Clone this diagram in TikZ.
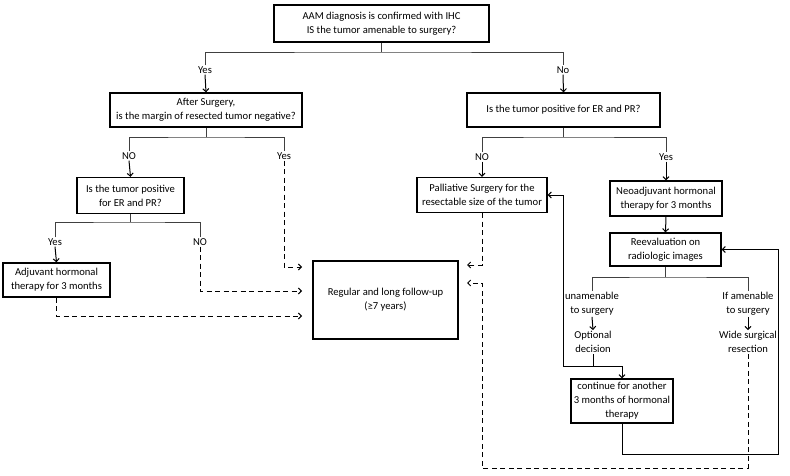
\documentclass[tikz,border=0pt]{standalone}
\usepackage{fontspec}
\setmainfont{Carlito}
\usetikzlibrary{arrows.meta}
\begin{document}
\begin{tikzpicture}[x=1pt,y=-1pt,
  every node/.style={font=\fontsize{10.6}{14}\selectfont},
  box/.style={draw, line width=1.3pt, align=center, inner sep=0pt},
  lbl/.style={align=center, inner sep=1pt},
  br/.style={line width=0.7pt, draw=black!75},
  ln/.style={line width=1pt},
  arr/.style={line width=1pt, -{Straight Barb[length=3pt,width=6pt]}},
  darr/.style={line width=1pt, dash pattern=on 5pt off 3.5pt, -{Straight Barb[length=3pt,width=6pt]}}]
\useasboundingbox[fill=white] (0,0) rectangle (790,476);

% boxes
\node[box, minimum width=215pt, minimum height=37pt] (top) at (381.5,23.5) {AAM diagnosis is confirmed with IHC\\IS the tumor amenable to surgery?};
\node[box, minimum width=192pt, minimum height=34pt] (after) at (206,110) {After Surgery,\\is the margin of resected tumor negative?};
\node[box, minimum width=193pt, minimum height=34pt] (erR) at (563.5,110) {Is the tumor positive for ER and PR?};
\node[box, minimum width=107pt, minimum height=36pt] (erL) at (130.5,195.5) {Is the tumor positive\\for ER and PR?};
\node[box, minimum width=107pt, minimum height=34pt] (adj) at (56.5,280) {Adjuvant hormonal\\therapy for 3 months};
\node[box, minimum width=145pt, minimum height=78pt] (fu) at (385.5,300) {Regular and long follow-up\\(≥7 years)};
\node[box, minimum width=130pt, minimum height=35pt] (pall) at (482,195) {Palliative Surgery for the\\resectable size of the tumor};
\node[box, minimum width=112pt, minimum height=35pt] (neo) at (666,198.5) {Neoadjuvant hormonal\\therapy for 3 months};
\node[box, minimum width=111pt, minimum height=33pt] (reev) at (665.5,249.5) {Reevaluation on\\radiologic images};
\node[box, minimum width=102pt, minimum height=44pt] (cont) at (622,401) {continue for another\\3 months of hormonal\\therapy};

% labels
\node[lbl] (yes1) at (205,70) {Yes};
\node[lbl] (no1) at (563,70) {No};
\node[lbl] (no2) at (129,156) {NO};
\node[lbl] (yes2) at (284,156) {Yes};
\node[lbl] (no3) at (482,157) {NO};
\node[lbl] (yes3) at (666,157) {Yes};
\node[lbl] (yes4) at (55,242) {Yes};
\node[lbl] (no4) at (200,242) {NO};
\node[lbl] (unam) at (592,304) {unamenable\\to surgery};
\node[lbl] (ifam) at (748,304) {If amenable\\to surgery};
\node[lbl] (opt) at (593,342) {Optional\\decision};
\node[lbl] (wide) at (748,342) {Wide surgical\\resection};

% branch points
\coordinate (b1) at (381.5,52);
\coordinate (b2) at (206,137);
\coordinate (b3) at (563.5,137);
\coordinate (b4) at (130.5,222);
\coordinate (b5) at (665.5,277);
\coordinate (j1) at (563,366);
\coordinate (r1) at (778,454);
\coordinate (d1) at (482,468);
\coordinate (fuin1) at (302,267);
\coordinate (fuin2) at (302,291);
\coordinate (fuin3) at (302,316);
\coordinate (fuin4) at (467,265);
\coordinate (fuin5) at (467,283);

% tree
\draw[br] (top.south) -- (b1);
\draw[br] (yes1.north) |- (b1) -| (no1.north);
\draw[arr] (yes1.south) -- (after.north);
\draw[arr] (no1.south) -- (erR.north);

\draw[br] (after.south) -- (b2);
\draw[br] (no2.north) |- (b2) -| (yes2.north);
\draw[arr] (no2.south) -- (erL.north);
\draw[darr] (yes2.south) |- (fuin1);

\draw[br] (erR.south) -- (b3);
\draw[br] (no3.north) |- (b3) -| (yes3.north);
\draw[arr] (no3.south) -- (pall.north);
\draw[arr] (yes3.south) -- (neo.north);

\draw[br] (erL.south) -- (b4);
\draw[br] (yes4.north) |- (b4) -| (no4.north);
\draw[arr] (yes4.south) -- (adj.north);
\draw[darr] (no4.south) |- (fuin2);
\draw[darr] (adj.south) |- (fuin3);

\draw[arr] (neo.south) -- (reev.north);
\draw[br] (reev.south) -- (b5);
\draw[br] (unam.north) |- (b5) -| (ifam.north);
\draw[arr] (unam.south) -- (opt.north);
\draw[arr] (ifam.south) -- (wide.north);

\draw[ln] (opt.south) -- (opt.south |- j1);
\draw[arr] (j1) |- (pall.east);
\draw[arr] (j1) -| (cont.north);
\draw[arr] (cont.south) |- (r1) |- (reev.east);

\draw[darr] (pall.south) |- (fuin4);
\draw[darr] (wide.south) |- (d1) |- (fuin5);
\end{tikzpicture}
\end{document}
